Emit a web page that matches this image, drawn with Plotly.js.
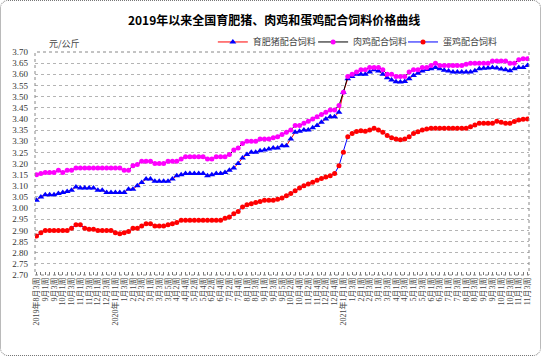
<!DOCTYPE html>
<html><head><meta charset="utf-8">
<script src="https://cdn.plot.ly/plotly-3.0.1.min.js"></script>
<style>
html,body{margin:0;padding:0;background:#fff;}
#wrap{position:relative;width:541px;height:356px;}
#chart{width:541px;height:356px;}
#frame{position:absolute;left:0;top:0;width:539px;height:354px;border:1px dotted #777;border-radius:8px;pointer-events:none;}
</style></head>
<body>
<div id="wrap"><div id="chart"></div><div id="frame"></div></div>
<script>
const weeks = [
"2019年8月3周","2019年8月4周",
"2019年9月1周","2019年9月2周","2019年9月3周","2019年9月4周",
"2019年10月1周","2019年10月2周","2019年10月3周","2019年10月4周",
"2019年11月1周","2019年11月2周","2019年11月3周","2019年11月4周",
"2019年12月1周","2019年12月2周","2019年12月3周","2019年12月4周",
"2020年1月1周","2020年1月2周","2020年1月3周","2020年1月4周",
"2020年2月1周","2020年2月2周","2020年2月3周","2020年2月4周",
"2020年3月1周","2020年3月2周","2020年3月3周","2020年3月4周","2020年3月5周",
"2020年4月1周","2020年4月2周","2020年4月3周","2020年4月4周",
"2020年5月1周","2020年5月2周","2020年5月3周","2020年5月4周",
"2020年6月1周","2020年6月2周","2020年6月3周","2020年6月4周",
"2020年7月1周","2020年7月2周","2020年7月3周","2020年7月4周","2020年7月5周",
"2020年8月1周","2020年8月2周","2020年8月3周","2020年8月4周",
"2020年9月1周","2020年9月2周","2020年9月3周","2020年9月4周","2020年9月5周",
"2020年10月1周","2020年10月2周","2020年10月3周","2020年10月4周",
"2020年11月1周","2020年11月2周","2020年11月3周","2020年11月4周",
"2020年12月1周","2020年12月2周","2020年12月3周","2020年12月4周","2020年12月5周",
"2021年1月1周","2021年1月2周","2021年1月3周","2021年1月4周",
"2021年2月1周","2021年2月2周","2021年2月3周","2021年2月4周",
"2021年3月1周","2021年3月2周","2021年3月3周","2021年3月4周",
"2021年4月1周","2021年4月2周","2021年4月3周","2021年4月4周",
"2021年5月1周","2021年5月2周","2021年5月3周","2021年5月4周",
"2021年6月1周","2021年6月2周","2021年6月3周","2021年6月4周",
"2021年7月1周","2021年7月2周","2021年7月3周","2021年7月4周",
"2021年8月1周","2021年8月2周","2021年8月3周","2021年8月4周",
"2021年9月1周","2021年9月2周","2021年9月3周","2021年9月4周",
"2021年10月1周","2021年10月2周","2021年10月3周","2021年10月4周",
"2021年11月1周","2021年11月2周","2021年11月3周"
];

const pigFeed = [
3.035,3.05,3.06,3.06,3.06,3.065,3.07,3.075,3.08,3.095,
3.09,3.09,3.09,3.09,3.08,3.08,3.07,3.07,3.07,3.07,
3.07,3.085,3.085,3.10,3.115,3.13,3.13,3.12,3.12,3.12,
3.12,3.13,3.145,3.15,3.155,3.155,3.155,3.155,3.155,3.145,
3.15,3.155,3.155,3.16,3.17,3.18,3.20,3.225,3.24,3.25,
3.25,3.257,3.26,3.265,3.27,3.27,3.28,3.28,3.31,3.34,
3.345,3.35,3.35,3.36,3.37,3.385,3.40,3.41,3.41,3.43,
3.52,3.58,3.59,3.60,3.60,3.60,3.61,3.62,3.615,3.60,
3.585,3.575,3.567,3.565,3.568,3.58,3.595,3.605,3.615,3.622,
3.625,3.63,3.625,3.618,3.615,3.61,3.61,3.61,3.61,3.61,
3.616,3.625,3.627,3.628,3.63,3.628,3.624,3.62,3.616,3.625,
3.63,3.631,3.64
];

const broilerFeed = [
3.15,3.155,3.16,3.16,3.16,3.17,3.16,3.17,3.17,3.18,
3.18,3.18,3.18,3.18,3.18,3.18,3.18,3.18,3.18,3.18,
3.17,3.17,3.19,3.195,3.21,3.21,3.21,3.20,3.20,3.20,
3.21,3.21,3.21,3.22,3.23,3.23,3.23,3.23,3.23,3.22,
3.22,3.23,3.23,3.23,3.24,3.26,3.27,3.29,3.30,3.30,
3.30,3.31,3.31,3.31,3.315,3.32,3.33,3.34,3.35,3.37,
3.37,3.38,3.39,3.40,3.41,3.42,3.43,3.44,3.44,3.46,
3.52,3.59,3.60,3.61,3.62,3.62,3.63,3.63,3.63,3.62,
3.60,3.60,3.59,3.59,3.59,3.61,3.62,3.62,3.63,3.63,
3.64,3.65,3.64,3.64,3.64,3.64,3.64,3.64,3.645,3.65,
3.65,3.65,3.65,3.65,3.66,3.66,3.66,3.66,3.65,3.65,
3.665,3.67,3.67
];

const layerFeed = [
2.875,2.89,2.90,2.90,2.90,2.90,2.90,2.90,2.91,2.925,
2.925,2.91,2.905,2.905,2.90,2.90,2.90,2.90,2.89,2.885,
2.89,2.895,2.91,2.91,2.92,2.93,2.93,2.92,2.92,2.92,
2.925,2.93,2.935,2.945,2.945,2.945,2.945,2.945,2.945,2.945,
2.945,2.945,2.945,2.955,2.96,2.975,2.985,3.005,3.015,3.02,
3.025,3.03,3.035,3.035,3.035,3.04,3.045,3.055,3.065,3.078,
3.09,3.10,3.108,3.116,3.125,3.133,3.14,3.145,3.155,3.19,
3.25,3.32,3.335,3.343,3.347,3.345,3.35,3.358,3.35,3.34,
3.326,3.316,3.31,3.307,3.31,3.32,3.335,3.342,3.35,3.355,
3.358,3.358,3.358,3.358,3.358,3.358,3.358,3.358,3.358,3.365,
3.373,3.38,3.38,3.38,3.38,3.39,3.385,3.38,3.38,3.388,
3.395,3.398,3.40
];

const seriesNames = ["育肥猪配合饲料","肉鸡配合饲料","蛋鸡配合饲料"];
const yTicks = [2.70,2.75,2.80,2.85,2.90,2.95,3.00,3.05,3.10,3.15,3.20,3.25,3.30,3.35,3.40,3.45,3.50,3.55,3.60,3.65,3.70];

const tickText = weeks.map((w, i) => {
  if (i % 2 !== 0) return "";
  const isYearStart = i === 0 || /年1月1周$/.test(w);
  return isYearStart ? w : w.replace(/^\d{4}年/, "");
});

const cjk = "Liberation Serif, Noto Sans CJK SC, sans-serif";

const traces = [
  {x: weeks, y: pigFeed, name: seriesNames[0], type: "scatter", mode: "lines+markers", legend: "legend",
   line: {color: "#ff0000", width: 1}, marker: {symbol: "triangle-up", color: "#0000ff", size: 6}},
  {x: weeks, y: broilerFeed, name: seriesNames[1], type: "scatter", mode: "lines+markers", legend: "legend2",
   line: {color: "#000000", width: 1}, marker: {symbol: "circle", color: "#ff00ff", size: 5}},
  {x: weeks, y: layerFeed, name: seriesNames[2], type: "scatter", mode: "lines+markers", legend: "legend3",
   line: {color: "#0000ff", width: 1}, marker: {symbol: "circle", color: "#ff0000", size: 5}}
];

const legFont = {family: "Noto Sans CJK SC, sans-serif", size: 9, color: "#444"};
const legBase = {orientation: "h", xanchor: "left", y: 1.045, yanchor: "middle",
                 font: legFont, bgcolor: "rgba(0,0,0,0)", itemwidth: 30};

const layout = {
  width: 541, height: 356,
  margin: {l: 35, r: 12, t: 52, b: 81},
  paper_bgcolor: "#ffffff", plot_bgcolor: "#ffffff",
  font: {family: cjk, size: 9, color: "#333"},
  title: {text: "<b>2019年以来全国育肥猪、肉鸡和蛋鸡配合饲料价格曲线</b>",
          font: {family: "Noto Sans CJK SC, sans-serif", size: 12, color: "#000"},
          x: 0.484, xanchor: "center", xref: "paper", y: 0.941, yanchor: "middle", yref: "container"},
  showlegend: true,
  legend: Object.assign({}, legBase, {x: 0.36}),
  legend2: Object.assign({}, legBase, {x: 0.563}),
  legend3: Object.assign({}, legBase, {x: 0.745}),
  xaxis: {type: "category", range: [-0.34, weeks.length - 1 + 0.34],
          tickmode: "array", tickvals: weeks, ticktext: tickText,
          tickangle: -90, tickfont: {family: cjk, size: 8, color: "#444"},
          ticks: "inside", ticklen: 3, tickcolor: "#777",
          showgrid: false, zeroline: false, showline: false},
  yaxis: {range: [2.70, 3.70], tickmode: "array", tickvals: yTicks,
          ticktext: yTicks.map(v => v.toFixed(2)),
          tickfont: {family: cjk, size: 9, color: "#333"},
          ticklabelstandoff: 6,
          showgrid: true, gridcolor: "#b4b4b4", griddash: "dot", gridwidth: 1,
          zeroline: false, showline: false, ticks: ""},
  shapes: [{type: "rect", xref: "paper", yref: "paper", x0: 0, x1: 1, y0: 0, y1: 1,
            line: {color: "#888", width: 1, dash: "dot"}, fillcolor: "rgba(0,0,0,0)"}],
  annotations: [{text: "元/公斤", xref: "paper", yref: "paper", x: 0.06, y: 1.04,
                 xanchor: "center", yanchor: "middle", showarrow: false,
                 font: {family: "Noto Sans CJK SC, sans-serif", size: 9, color: "#444"}}]
};

Plotly.newPlot("chart", traces, layout, {displayModeBar: false, staticPlot: true});
</script>
</body></html>
